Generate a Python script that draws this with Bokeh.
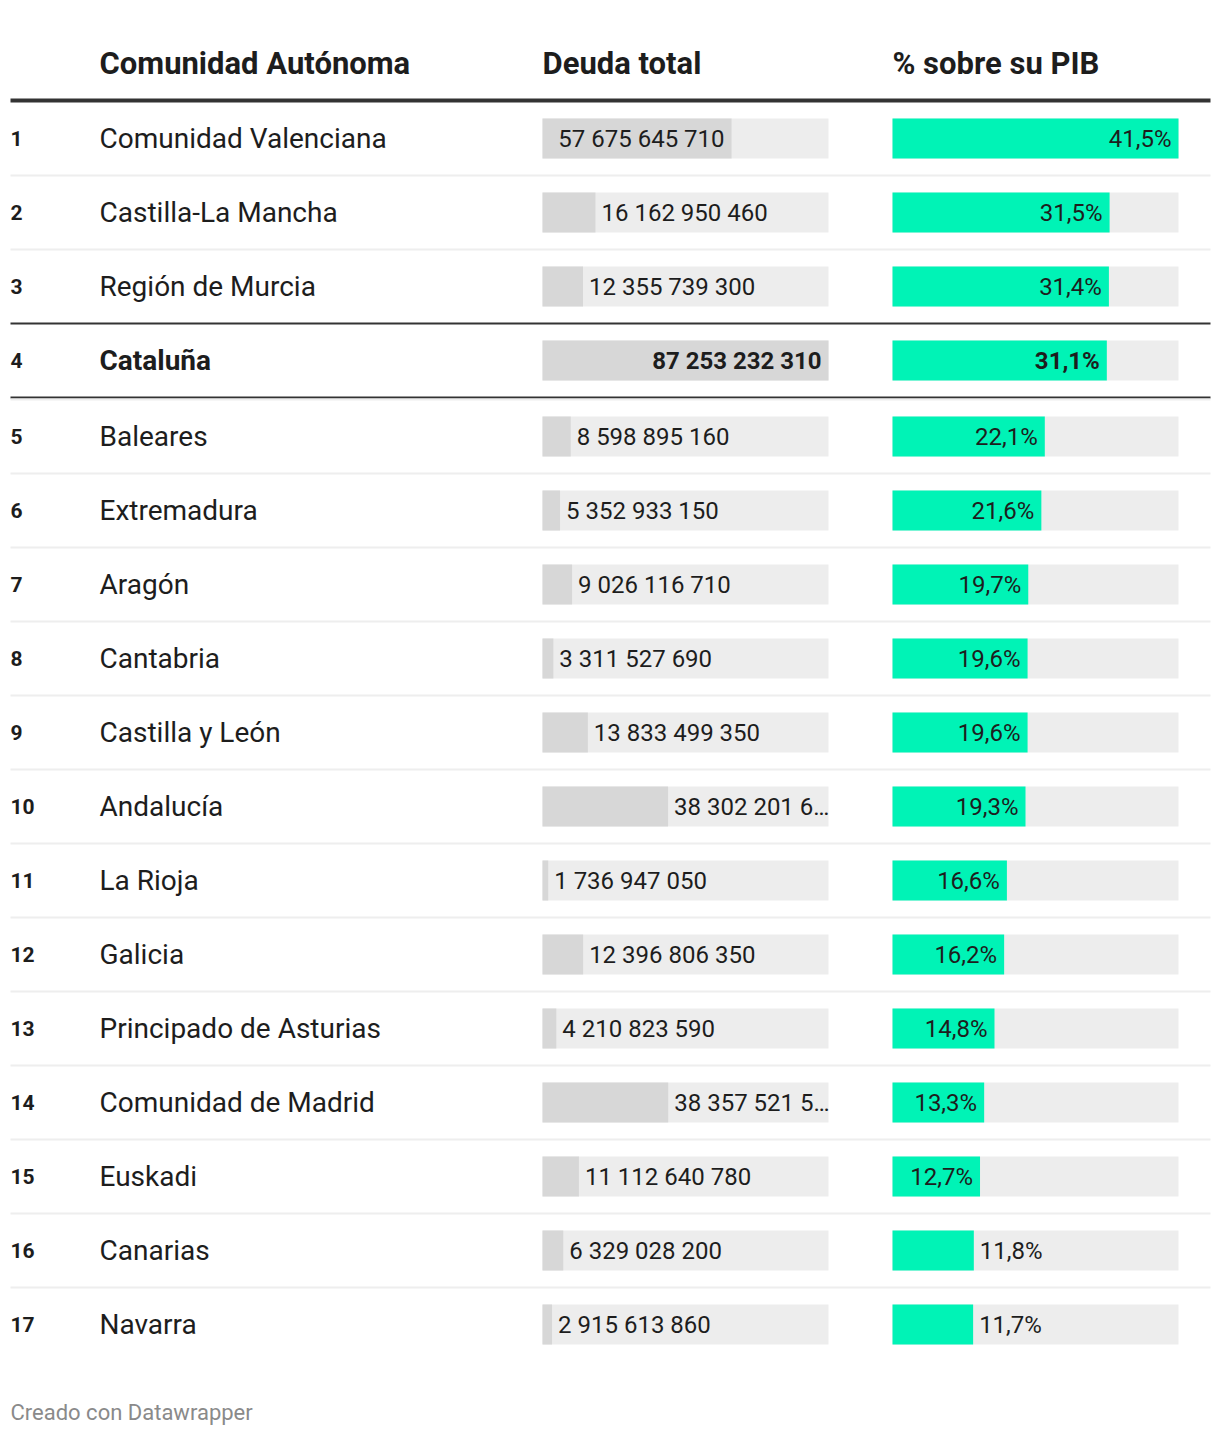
from bokeh.plotting import figure
from bokeh.models import Range1d, ColumnDataSource
from bokeh.embed import file_html
from bokeh.resources import INLINE
from bokeh.core.properties import value

# ---------------- data ----------------
headers = ["Comunidad Autónoma", "Deuda total", "% sobre su PIB"]
ranks = [1, 2, 3, 4, 5, 6, 7, 8, 9, 10, 11, 12, 13, 14, 15, 16, 17]
names = ["Comunidad Valenciana", "Castilla-La Mancha", "Región de Murcia", "Cataluña",
         "Baleares", "Extremadura", "Aragón", "Cantabria", "Castilla y León", "Andalucía",
         "La Rioja", "Galicia", "Principado de Asturias", "Comunidad de Madrid", "Euskadi",
         "Canarias", "Navarra"]
deuda = [57675645710, 16162950460, 12355739300, 87253232310, 8598895160, 5352933150,
         9026116710, 3311527690, 13833499350, 38302201640, 1736947050, 12396806350,
         4210823590, 38357521540, 11112640780, 6329028200, 2915613860]
pib = [41.5, 31.5, 31.4, 31.1, 22.1, 21.6, 19.7, 19.6, 19.6, 19.3, 16.6, 16.2, 14.8,
       13.3, 12.7, 11.8, 11.7]
highlight = "Cataluña"
footer = "Creado con Datawrapper"

# ---------------- layout / style ----------------
W, H = 1212, 1428
FONT = "Roboto"
TXT = "#1d1d1d"
BG_BAR = "#ededed"
GRAY_BAR = "#d7d7d7"
GREEN = "#00f3b6"
X_RANK, X_NAME = 10, 99
X_D, X_P, BAR_W = 542, 892, 286
BAR_H = 40
ROW0, ROW_STEP = 138, 74
LBL_PX = 24
NAME_PX = 28

hi = names.index(highlight)
n = len(names)
yc = [ROW0 + ROW_STEP * i + (2 if i > hi else 0) for i in range(n)]

# approx Roboto advance widths (em)
def text_w(s, px):
    w = 0.0
    for ch in s:
        if ch.isdigit():
            w += 0.5615
        elif ch == " ":
            w += 0.2476
        elif ch == ",":
            w += 0.1965
        elif ch == "%":
            w += 0.732
        else:
            w += 0.55
    return w * px

def fmt_d(v):
    return f"{v:,}".replace(",", " ")

def fmt_p(v):
    return f"{v:.1f}".replace(".", ",") + "%"

p = figure(width=W, height=H, x_range=Range1d(0, W), y_range=Range1d(H, 0),
           output_backend="svg", toolbar_location=None, x_axis_type=None,
           y_axis_type=None, min_border=0)
p.outline_line_color = None
p.grid.visible = False
p.background_fill_color = "white"
p.border_fill_color = "white"

# header
p.text(x=[X_NAME, X_D, X_P], y=[63] * 3, text=headers, text_font=value(FONT),
       text_font_style="bold", text_font_size="31px", text_color=TXT,
       text_baseline="middle", text_align="left")
p.segment(x0=[10], y0=[100], x1=[1210], y1=[100], line_color="#333333", line_width=4)

# separators
for i in range(n - 1):
    ys = yc[i] + 37
    if i == hi - 1 or i == hi:
        p.segment(x0=[10], y0=[ys], x1=[1210], y1=[ys], line_color="#333333", line_width=2)
        if i == hi:
            p.segment(x0=[10], y0=[ys + 2], x1=[1210], y1=[ys + 2], line_color="#eeeeee", line_width=2)
    else:
        p.segment(x0=[10], y0=[ys], x1=[1210], y1=[ys], line_color="#eeeeee", line_width=2)

# backgrounds
top = [y - BAR_H / 2 for y in yc]
bot = [y + BAR_H / 2 for y in yc]
p.quad(left=[X_D] * n, right=[X_D + BAR_W] * n, top=top, bottom=bot, fill_color=BG_BAR, line_color=None)
p.quad(left=[X_P] * n, right=[X_P + BAR_W] * n, top=top, bottom=bot, fill_color=BG_BAR, line_color=None)

dmax = max(deuda)
pmax = max(pib)
d_end = [X_D + v / dmax * BAR_W for v in deuda]
p_end = [X_P + v / pmax * BAR_W for v in pib]
p.quad(left=[X_D] * n, right=d_end, top=top, bottom=bot, fill_color=GRAY_BAR, line_color=None)
p.quad(left=[X_P] * n, right=p_end, top=top, bottom=bot, fill_color=GREEN, line_color=None)

def bar_labels(vals, ends, x0, fmt):
    xs, ys, ts, al, st = [], [], [], [], []
    for i, v in enumerate(vals):
        s = fmt(v)
        bw = ends[i] - x0
        lw = text_w(s, LBL_PX)
        if bw > lw + 20:
            xs.append(ends[i] - 7)
            al.append("right")
        else:
            start = ends[i] + 6
            avail = x0 + BAR_W - start
            if lw > avail:
                k = len(s)
                while k > 0 and text_w(s[:k] + "…", LBL_PX) > avail:
                    k -= 1
                s = s[:k].rstrip() + "…"
            xs.append(start)
            al.append("left")
        ys.append(yc[i])
        ts.append(s)
        st.append("bold" if i == hi else "normal")
    return ColumnDataSource(dict(x=xs, y=ys, t=ts, a=al, s=st))

for src in (bar_labels(deuda, d_end, X_D, fmt_d), bar_labels(pib, p_end, X_P, fmt_p)):
    p.text(x="x", y="y", text="t", text_align="a", text_font_style="s", source=src,
           text_font=value(FONT), text_font_size=f"{LBL_PX}px", text_color=TXT,
           text_baseline="middle")

styles = ["bold" if i == hi else "normal" for i in range(n)]
src_n = ColumnDataSource(dict(x=[X_NAME] * n, y=yc, t=names, s=styles))
p.text(x="x", y="y", text="t", text_font_style="s", source=src_n, text_font=value(FONT),
       text_font_size=f"{NAME_PX}px", text_color=TXT, text_baseline="middle")
p.text(x=[X_RANK] * n, y=yc, text=[str(r) for r in ranks], text_font=value(FONT),
       text_font_style="bold", text_font_size="21px", text_color=TXT, text_baseline="middle")

p.text(x=[10], y=[1412], text=[footer], text_font=value(FONT), text_font_size="22px",
       text_color="#8a8a8a", text_baseline="middle")

open("out.html", "w").write(file_html(p, INLINE))
